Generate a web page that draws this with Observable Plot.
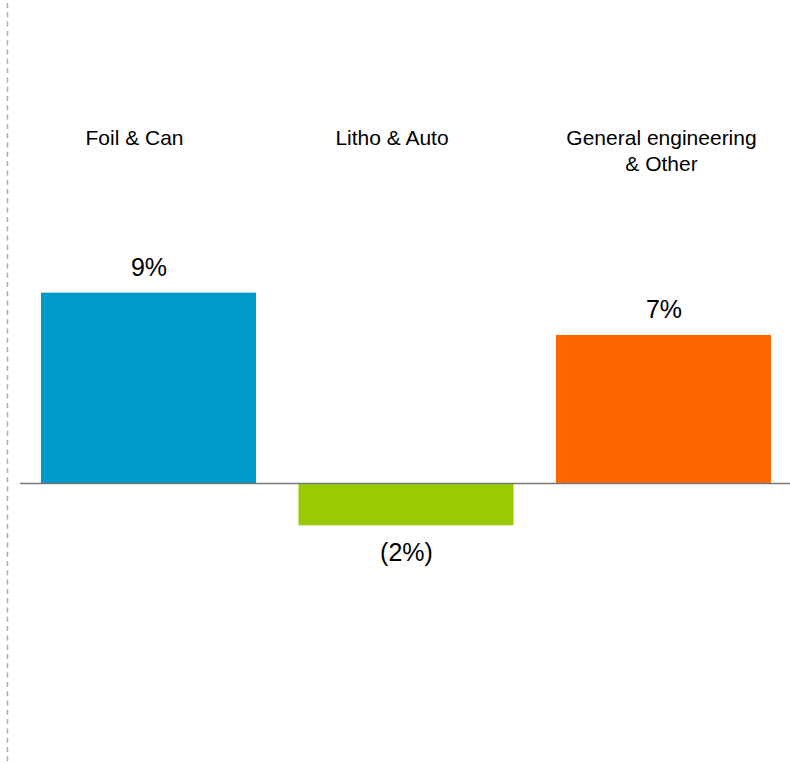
<!DOCTYPE html>
<html><head><meta charset="utf-8">
<script src="https://cdn.jsdelivr.net/npm/d3@7"></script>
<script src="https://cdn.jsdelivr.net/npm/@observablehq/plot@0.6"></script>
<style>body{margin:0;background:#fff}</style>
</head><body><div id="chart"></div>
<script>
const categories = ["Foil & Can", "Litho & Auto", "General engineering & Other"];
const labels = ["Foil & Can", "Litho & Auto", "General engineering\n& Other"];
const growth = [9, -2, 7];

const data = categories.map((c, i) => ({category: c, label: labels[i], value: growth[i]}));
const fmt = v => v < 0 ? `(${-v}%)` : `${v}%`;

const chart = Plot.plot({
  width: 790, height: 764,
  marginTop: 0, marginBottom: 0, marginLeft: 20, marginRight: 0,
  style: {fontFamily: "'Liberation Sans', Arial, sans-serif", background: "#fff", color: "#000"},
  x: {type: "band", domain: categories, range: [19.75, 792.25], paddingInner: 0.165, paddingOuter: 0.0825, round: false, axis: null},
  y: {domain: [0, 10], range: [483, 271.5], axis: null},
  color: {domain: categories, range: ["#0099CC", "#99CC00", "#FF6600"]},
  marks: [
    Plot.barY(data, {x: "category", y: "value", fill: "category"}),
    Plot.ruleY([0], {stroke: "#777", strokeWidth: 1.5}),
    Plot.text(data.filter(d => d.value >= 0), {x: "category", y: "value", text: d => fmt(d.value), lineAnchor: "bottom", dy: -17, fontSize: 25, fill: "#000"}),
    Plot.text(data.filter(d => d.value < 0), {x: "category", y: "value", text: d => fmt(d.value), lineAnchor: "top", dy: 17, fontSize: 25, fill: "#000"}),
    Plot.text(data.slice(0, 2), {x: "category", text: "label", frameAnchor: "top", lineAnchor: "top", dy: 127, dx: -14.5, fontSize: 21, lineHeight: 1.2, fill: "#000"}),
    Plot.text(data.slice(2), {x: "category", text: "label", frameAnchor: "top", lineAnchor: "top", dy: 127, dx: -2.5, fontSize: 21, lineHeight: 1.2, fill: "#000"})
  ]
});

d3.select(chart).append("line")
  .attr("x1", 7.5).attr("x2", 7.5).attr("y1", 3).attr("y2", 764)
  .attr("stroke", "#aaa").attr("stroke-width", 1.5).attr("stroke-dasharray", "5,4.3");

document.getElementById("chart").appendChild(chart);
</script>
</body></html>
